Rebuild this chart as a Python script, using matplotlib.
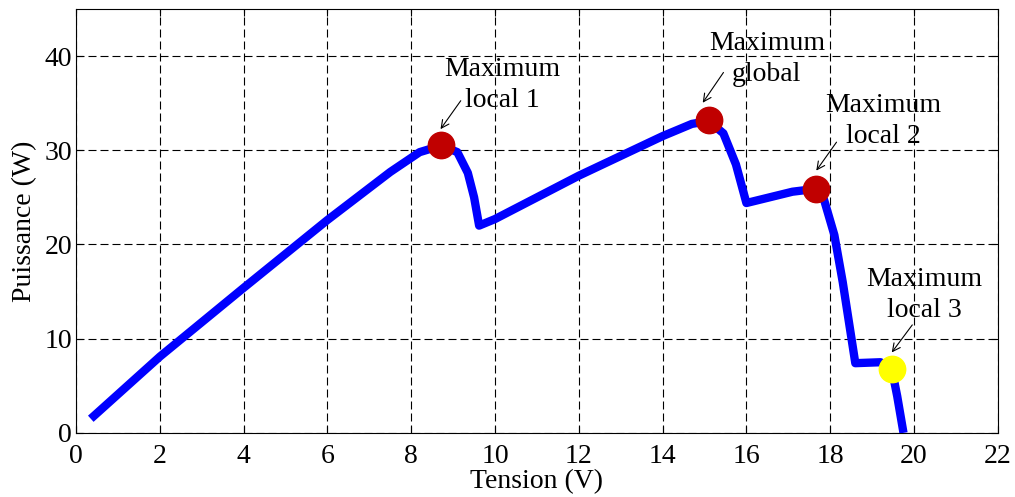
import matplotlib
matplotlib.use("Agg")
import matplotlib.pyplot as plt

# P-V curve
tension = [0.35, 2, 4, 6, 7.5, 8.2, 8.72, 9.1, 9.35, 9.5, 9.62, 10, 12, 14, 14.7,
           15.1, 15.45, 15.75, 16.0, 17.1, 17.65, 17.85, 18.1, 18.3, 18.45, 18.6,
           19.2, 19.47, 19.6, 19.75]
puissance = [1.5, 8.1, 15.4, 22.6, 27.7, 29.8, 30.5, 29.8, 27.6, 25.0, 22.0, 22.7,
             27.3, 31.5, 32.8, 33.1, 31.8, 28.5, 24.4, 25.6, 25.9, 24.8, 21.0, 16.0,
             11.7, 7.4, 7.5, 6.8, 3.9, 0.0]

max_x = [8.72, 15.1, 17.65]
max_y = [30.6, 33.2, 25.9]
loc3_x = [19.47]
loc3_y = [6.8]

labels = ["Maximum\nlocal 1", "Maximum\nglobal", "Maximum\nlocal 2", "Maximum\nlocal 3"]
label_xy = [(10.17, 36.9), (16.49, 39.7), (19.27, 33.1), (20.25, 14.6)]
arrow_tail = [(9.22, 35.5), (15.49, 38.5), (18.19, 31.1), (20.0, 11.7)]
arrow_head = [(8.66, 32.0), (14.92, 34.8), (17.63, 27.6), (19.43, 8.3)]

plt.rcParams['font.family'] = ['Liberation Serif', 'DejaVu Serif']

fig = plt.figure(figsize=(10.15, 4.97), dpi=100)
ax = fig.add_axes([0.075, 0.129, 0.908, 0.853])

ax.plot(tension, puissance, color='#0000FF', lw=6, solid_capstyle='butt',
        solid_joinstyle='round', zorder=3)
ax.plot(max_x, max_y, 'o', color='#C00000', ms=19, zorder=4)
ax.plot(loc3_x, loc3_y, 'o', color='#FFFF00', ms=19, zorder=4)

for txt, (tx, ty), tail, head in zip(labels, label_xy, arrow_tail, arrow_head):
    ax.text(tx, ty, txt, ha='center', va='center', fontsize=20, linespacing=1.3,
            zorder=5)
    ax.annotate('', xy=head, xytext=tail,
                arrowprops=dict(arrowstyle='->', color='k', lw=0.8,
                                mutation_scale=14), zorder=5)

ax.set_xlim(0, 22)
ax.set_ylim(0, 45)
ax.set_xticks(range(0, 23, 2))
ax.set_yticks(range(0, 41, 10))
ax.grid(True, color='k', linestyle=(0, (7.2, 3.6)), lw=0.8)
ax.tick_params(direction='in', labelsize=20, length=5, top=True, right=True)
ax.tick_params(axis='x', pad=8)
ax.tick_params(axis='y', pad=3)
ax.set_xlabel('Tension (V)', fontsize=20, labelpad=0)
ax.set_ylabel('Puissance (W)', fontsize=20, labelpad=5)
for s in ax.spines.values():
    s.set_linewidth(0.8)

fig.savefig('out.png', dpi=100)
